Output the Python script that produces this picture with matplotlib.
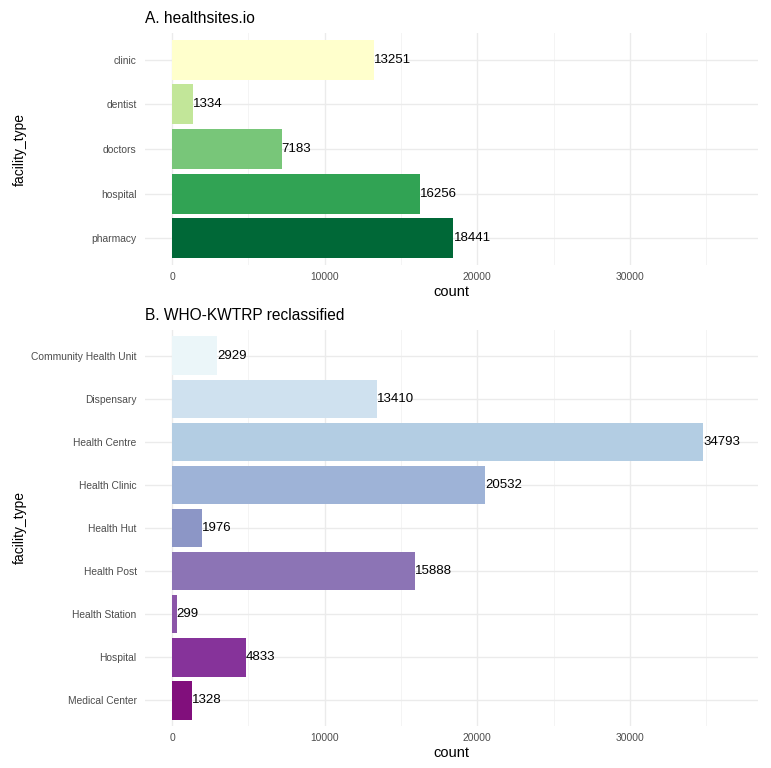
import matplotlib
matplotlib.use("Agg")
import matplotlib.pyplot as plt
from matplotlib.ticker import MultipleLocator

plt.rcParams['font.family'] = ['Liberation Sans', 'DejaVu Sans']

# Panel A data
a_types = ["clinic", "dentist", "doctors", "hospital", "pharmacy"]
a_counts = [13251, 1334, 7183, 16256, 18441]
a_colors = ["#FFFFCC", "#C2E699", "#78C679", "#31A354", "#006837"]

# Panel B data
b_types = ["Community Health Unit", "Dispensary", "Health Centre", "Health Clinic",
           "Health Hut", "Health Post", "Health Station", "Hospital", "Medical Center"]
b_counts = [2929, 13410, 34793, 20532, 1976, 15888, 299, 4833, 1328]
b_colors = ["#EBF6F9", "#CFE1EF", "#B3CDE3", "#9EB3D7", "#8C96C6",
            "#8C74B5", "#8B55A8", "#86339A", "#810F7C"]

W, H = 771, 768
fig = plt.figure(figsize=(W / 100, H / 100), dpi=100)


def px_axes(left, top, right, bottom):
    return fig.add_axes([left / W, 1 - bottom / H, (right - left) / W, (bottom - top) / H])


def draw(ax, types, counts, colors, title):
    n = len(types)
    ypos = list(range(n))
    ax.barh(ypos, counts, height=0.9, color=colors, zorder=2)
    for y, c in zip(ypos, counts):
        ax.text(c, y, str(c), ha='left', va='center', fontsize=9.5, color='black', zorder=3)
    ax.set_yticks(ypos)
    ax.set_yticklabels(types)
    ax.set_ylim(n - 1 + 0.6, -0.6)
    ax.set_xlim(-1780, 38400)
    ax.xaxis.set_major_locator(MultipleLocator(10000))
    ax.xaxis.set_minor_locator(MultipleLocator(5000))
    ax.grid(True, which='major', color='#EBEBEB', linewidth=1.0, zorder=0)
    ax.grid(True, which='minor', axis='x', color='#F2F2F2', linewidth=0.6, zorder=0)
    ax.set_axisbelow(True)
    for s in ax.spines.values():
        s.set_visible(False)
    ax.tick_params(axis='both', which='both', length=0, labelsize=7.4, labelcolor='#4D4D4D')
    ax.tick_params(axis='y', pad=6)
    ax.tick_params(axis='x', pad=5)
    ax.set_xlabel("count", fontsize=10.5, labelpad=2)
    ax.set_ylabel("facility_type", fontsize=10, labelpad=8)
    ax.set_title(title, loc='left', fontsize=11.2, pad=7)


axA = px_axes(145, 33, 758, 265)
draw(axA, a_types, a_counts, a_colors, "A. healthsites.io")
axA.yaxis.set_label_coords(-(145 - 27) / 613, 0.5)

axB = px_axes(145, 330, 758, 726)
draw(axB, b_types, b_counts, b_colors, "B. WHO-KWTRP reclassified")
axB.yaxis.set_label_coords(-(145 - 27) / 613, 0.5)

fig.savefig("out.png", dpi=100, facecolor='white')
